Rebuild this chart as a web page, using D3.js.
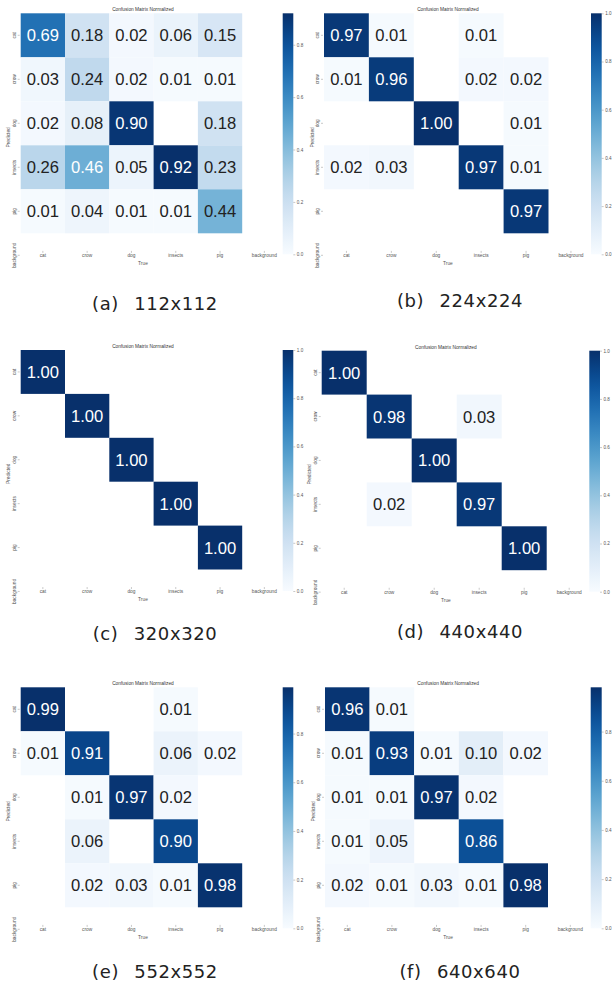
<!DOCTYPE html>
<html><head><meta charset="utf-8">
<script src="https://cdn.jsdelivr.net/npm/d3@7"></script>
<style>html,body{margin:0;padding:0;background:#fff;} svg{display:block;}</style>
</head><body>
<svg id="chart" width="613" height="989"></svg>
<script>
// ---------------- data ----------------
const classes = ["cat", "crow", "dog", "insects", "pig", "background"];
const captions = ["(a) 112x112", "(b) 224x224", "(c) 320x320", "(d) 440x440", "(e) 552x552", "(f) 640x640"];
const chartTitle = "Confusion Matrix Normalized";
const xAxisTitle = "True";
const yAxisTitle = "Predicted";
const colorbarTicks = [0.0, 0.2, 0.4, 0.6, 0.8, 1.0];
// rows = Predicted, columns = True ; 0 = empty cell
const matrix112 = [
  [0.69, 0.18, 0.02, 0.06, 0.15, 0],
  [0.03, 0.24, 0.02, 0.01, 0.01, 0],
  [0.02, 0.08, 0.90, 0,    0.18, 0],
  [0.26, 0.46, 0.05, 0.92, 0.23, 0],
  [0.01, 0.04, 0.01, 0.01, 0.44, 0],
  [0, 0, 0, 0, 0, 0]
];
const matrix224 = [
  [0.97, 0.01, 0,    0.01, 0,    0],
  [0.01, 0.96, 0,    0.02, 0.02, 0],
  [0,    0,    1.00, 0,    0.01, 0],
  [0.02, 0.03, 0,    0.97, 0.01, 0],
  [0,    0,    0,    0,    0.97, 0],
  [0, 0, 0, 0, 0, 0]
];
const matrix320 = [
  [1.00, 0,    0,    0,    0,    0],
  [0,    1.00, 0,    0,    0,    0],
  [0,    0,    1.00, 0,    0,    0],
  [0,    0,    0,    1.00, 0,    0],
  [0,    0,    0,    0,    1.00, 0],
  [0, 0, 0, 0, 0, 0]
];
const matrix440 = [
  [1.00, 0,    0,    0,    0,    0],
  [0,    0.98, 0,    0.03, 0,    0],
  [0,    0,    1.00, 0,    0,    0],
  [0,    0.02, 0,    0.97, 0,    0],
  [0,    0,    0,    0,    1.00, 0],
  [0, 0, 0, 0, 0, 0]
];
const matrix552 = [
  [0.99, 0,    0,    0.01, 0,    0],
  [0.01, 0.91, 0,    0.06, 0.02, 0],
  [0,    0.01, 0.97, 0.02, 0,    0],
  [0,    0.06, 0,    0.90, 0,    0],
  [0,    0.02, 0.03, 0.01, 0.98, 0],
  [0, 0, 0, 0, 0, 0]
];
const matrix640 = [
  [0.96, 0.01, 0,    0,    0,    0],
  [0.01, 0.93, 0.01, 0.10, 0.02, 0],
  [0.01, 0.01, 0.97, 0.02, 0,    0],
  [0.01, 0.05, 0,    0.86, 0,    0],
  [0.02, 0.01, 0.03, 0.01, 0.98, 0],
  [0, 0, 0, 0, 0, 0]
];
const matrices = [matrix112, matrix224, matrix320, matrix440, matrix552, matrix640];

// ---------------- layout ----------------
const panels = [
  {x0: 20.7,  y0: 13.3,  sx: 44.3, sy: 44.0, cbx: 282.7, cbw: 10.6, capX: 155, capY: 310},
  {x0: 324.0, y0: 13.3,  sx: 44.9, sy: 44.0, cbx: 591.0, cbw: 10.7, capX: 460, capY: 307},
  {x0: 20.7,  y0: 350.0, sx: 44.3, sy: 43.9, cbx: 282.7, cbw: 10.6, capX: 155, capY: 640},
  {x0: 321.7, y0: 350.7, sx: 45.0, sy: 43.9, cbx: 589.3, cbw: 10.7, capX: 460, capY: 638},
  {x0: 20.7,  y0: 687.3, sx: 44.3, sy: 44.0, cbx: 282.7, cbw: 10.6, capX: 155, capY: 978},
  {x0: 325.0, y0: 687.3, sx: 44.6, sy: 44.0, cbx: 590.7, cbw: 11.0, capX: 460, capY: 978}
];
const CB_H = 241;
const svg = d3.select("#chart");
const defs = svg.append("defs");
const font = "'Liberation Sans', Arial, Helvetica, sans-serif";
const tickColor = "#555";

function relLum(c) {
  const rgb = d3.rgb(c);
  const f = v => { v /= 255; return v <= 0.03928 ? v / 12.92 : Math.pow((v + 0.055) / 1.055, 2.4); };
  return 0.2126 * f(rgb.r) + 0.7152 * f(rgb.g) + 0.0722 * f(rgb.b);
}

panels.forEach((p, i) => {
  const m = matrices[i];
  const vmax = d3.max(m.flat());
  const color = d3.scaleSequential(d3.interpolateBlues).domain([0, vmax]);
  const x = d3.scaleBand().domain(classes).range([p.x0, p.x0 + 6 * p.sx]);
  const y = d3.scaleBand().domain(classes).range([p.y0, p.y0 + 6 * p.sy]);
  const g = svg.append("g");

  const cells = [];
  m.forEach((row, r) => row.forEach((v, c) => {
    if (v >= 0.005) cells.push({r: classes[r], c: classes[c], v});
  }));

  g.selectAll("rect.cell").data(cells).join("rect")
    .attr("class", "cell")
    .attr("x", d => x(d.c)).attr("y", d => y(d.r))
    .attr("width", x.bandwidth()).attr("height", y.bandwidth())
    .attr("fill", d => color(d.v));

  g.selectAll("text.val").data(cells).join("text")
    .attr("class", "val")
    .attr("x", d => x(d.c) + x.bandwidth() / 2)
    .attr("y", d => y(d.r) + y.bandwidth() / 2)
    .attr("dy", "0.36em")
    .attr("text-anchor", "middle")
    .style("font-family", font).style("font-size", "16.6px")
    .attr("fill", d => relLum(color(d.v)) > 0.40 ? "#222222" : "#ffffff")
    .text(d => d.v.toFixed(2));

  // title
  g.append("text")
    .attr("x", p.x0 + 2.76 * p.sx).attr("y", p.y0 - 2)
    .attr("text-anchor", "middle")
    .style("font-family", font).style("font-size", "4.8px").attr("fill", "#333")
    .text(chartTitle);

  // x axis
  const xa = g.append("g")
    .attr("transform", `translate(0,${p.y0 + 5.4 * p.sy})`)
    .call(d3.axisBottom(x).tickSize(2).tickPadding(1));
  xa.select(".domain").remove();
  xa.selectAll("line").attr("stroke", "#777").attr("stroke-width", 0.4);
  xa.selectAll("text").style("font-family", font).style("font-size", "4.8px").attr("fill", tickColor);

  // y axis
  const ya = g.append("g")
    .attr("transform", `translate(${p.x0 - 1},0)`)
    .call(d3.axisLeft(y).tickSize(2).tickPadding(1));
  ya.select(".domain").remove();
  ya.selectAll("line").attr("stroke", "#777").attr("stroke-width", 0.4);
  ya.selectAll("text")
    .attr("transform", "rotate(-90)")
    .attr("x", 0).attr("y", -4.2).attr("dy", "0")
    .style("text-anchor", "middle")
    .style("font-family", font).style("font-size", "4.8px").attr("fill", tickColor);

  // axis titles
  g.append("text")
    .attr("x", p.x0 + 2.76 * p.sx).attr("y", p.y0 + 5.72 * p.sy)
    .attr("text-anchor", "middle")
    .style("font-family", font).style("font-size", "4.8px").attr("fill", tickColor)
    .text(xAxisTitle);
  g.append("text")
    .attr("transform", `translate(${p.x0 - 10.5},${p.y0 + 2.82 * p.sy}) rotate(-90)`)
    .attr("text-anchor", "middle")
    .style("font-family", font).style("font-size", "4.8px").attr("fill", tickColor)
    .text(yAxisTitle);

  // colorbar
  const gid = "cbgrad" + i;
  const grad = defs.append("linearGradient").attr("id", gid)
    .attr("x1", 0).attr("y1", 1).attr("x2", 0).attr("y2", 0);
  d3.range(0, 1.0001, 0.05).forEach(t => {
    grad.append("stop").attr("offset", t).attr("stop-color", color(t * vmax));
  });
  g.append("rect")
    .attr("x", p.cbx).attr("y", p.y0).attr("width", p.cbw).attr("height", CB_H)
    .attr("fill", `url(#${gid})`);
  const cbScale = d3.scaleLinear().domain([0, vmax]).range([p.y0 + CB_H, p.y0]);
  const ca = g.append("g")
    .attr("transform", `translate(${p.cbx + p.cbw},0)`)
    .call(d3.axisRight(cbScale)
      .tickValues(colorbarTicks.filter(t => t <= vmax + 1e-9))
      .tickFormat(d3.format(".1f")).tickSize(2).tickPadding(1.5));
  ca.select(".domain").remove();
  ca.selectAll("line").attr("stroke", "#777").attr("stroke-width", 0.4);
  ca.selectAll("text").style("font-family", font).style("font-size", "4.6px").attr("fill", tickColor);

  // caption
  svg.append("text")
    .attr("x", p.capX).attr("y", p.capY)
    .attr("text-anchor", "middle")
    .style("font-family", "'DejaVu Sans', sans-serif").style("font-size", "18px")
    .style("letter-spacing", "0.6px").style("word-spacing", "9px")
    .attr("fill", "#222")
    .text(captions[i]);
});
</script>
</body></html>
